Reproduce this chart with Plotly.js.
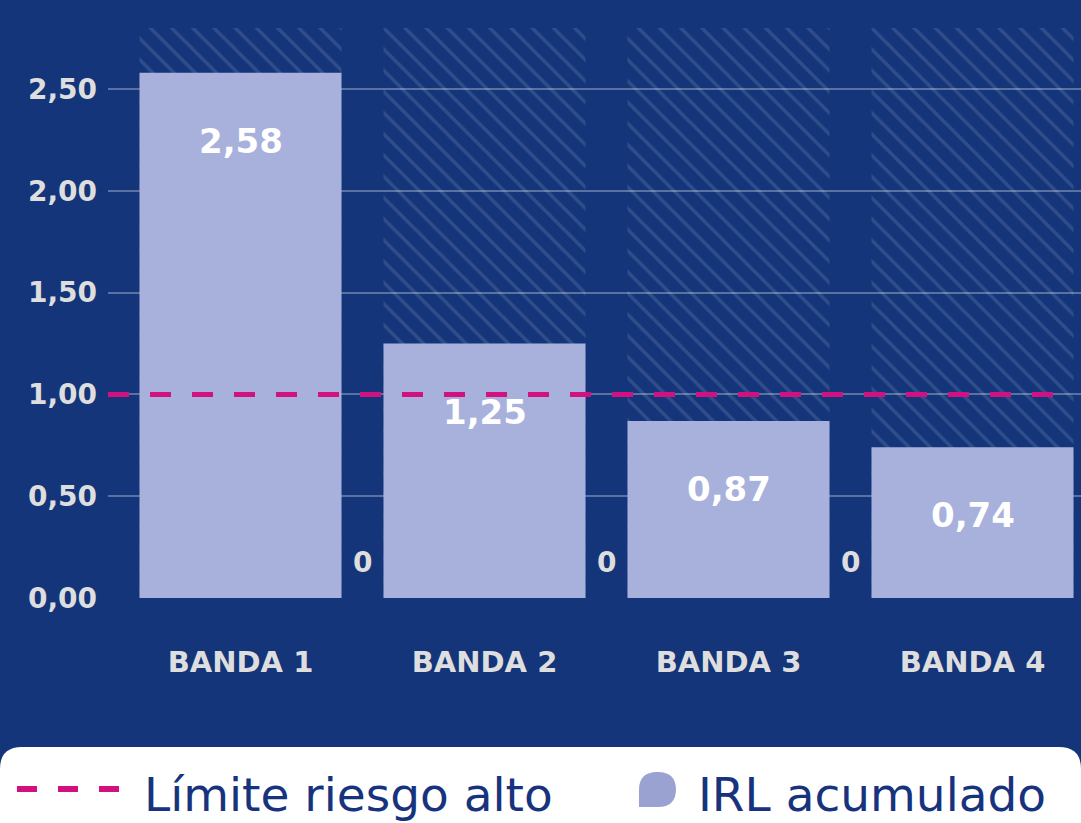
<!DOCTYPE html>
<html>
<head>
<meta charset="utf-8">
<script src="https://cdn.plot.ly/plotly-3.0.1.min.js"></script>
<style>html,body{margin:0;padding:0;background:#14357a;}#chart{width:1081px;height:823px;}</style>
</head>
<body>
<div id="chart"></div>
<script>
// ---- data ----
const categories = ['BANDA 1', 'BANDA 2', 'BANDA 3', 'BANDA 4'];
const irlValues = [2.58, 1.25, 0.87, 0.74];
const zeroValues = [0, 0, 0, 0];
const scaleMax = [2.8, 2.8, 2.8, 2.8];
const riskLimit = 1.0;
const yTicks = [0, 0.5, 1.0, 1.5, 2.0, 2.5];
const seriesNames = ['IRL acumulado', 'Límite riesgo alto'];

// ---- style ----
const BG = '#14357a';
const BAR = '#a8b0dc';
const MAGENTA = '#d0117f';
const GREY = '#dedede';
const NAVY = '#17337d';
const BOLD = 'DejaVu Sans';

// plot area geometry (pixels)
const ML = 108, MT = 28, MB = 225, FW = 1081, FH = 823;
const PW = FW - ML, PH = FH - MT - MB;
const bottomPx = MT + PH;
const fx = x => (x - ML) / PW;
const fy = y => (bottomPx - y) / PH;
const pt = (x, y) => fx(x) + ',' + fy(y);
const fmt = v => v.toFixed(2).replace('.', ',');

const xIdx = categories.map((c, i) => i);

const traces = [
  {
    type: 'bar', x: xIdx, y: scaleMax, width: 0.828,
    marker: {color: 'rgba(0,0,0,0)', line: {width: 0},
      pattern: {shape: '\\', fgcolor: 'rgba(255,255,255,0.24)', bgcolor: 'rgba(0,0,0,0)', size: 15, solidity: 0.22, fillmode: 'overlay'}},
    hoverinfo: 'skip', showlegend: false
  },
  {
    type: 'bar', x: xIdx, y: irlValues, width: 0.828, name: seriesNames[0],
    marker: {color: BAR, line: {width: 0}}, showlegend: false
  }
];

const annotations = [];
irlValues.forEach((v, i) => annotations.push({
  x: i, y: v, xref: 'x', yref: 'y', text: fmt(v), showarrow: false,
  yshift: -68, font: {family: BOLD, size: 34, color: '#ffffff', weight: 'bold'}
}));
zeroValues.forEach((v, i) => annotations.push({
  x: i + 0.5, y: v, xref: 'x', yref: 'y', text: String(v), showarrow: false,
  yshift: 36, font: {family: BOLD, size: 28, color: GREY, weight: 'bold'}
}));
// legend texts
annotations.push({xref: 'paper', yref: 'paper', x: fx(143), y: fy(823), xanchor: 'left', yanchor: 'bottom',
  text: seriesNames[1], showarrow: false, borderpad: 0, font: {family: 'DejaVu Sans', size: 47, color: NAVY}});
annotations.push({xref: 'paper', yref: 'paper', x: fx(697), y: fy(823), xanchor: 'left', yanchor: 'bottom',
  text: seriesNames[0], showarrow: false, borderpad: 0, font: {family: 'DejaVu Sans', size: 47, color: NAVY}});

const r = 22;
const boxPath = 'M' + pt(0, 850) + ' L' + pt(0, 747 + r) + ' Q' + pt(0, 747) + ' ' + pt(r, 747) +
  ' L' + pt(FW - r, 747) + ' Q' + pt(FW, 747) + ' ' + pt(FW, 747 + r) + ' L' + pt(FW, 850) + ' Z';
const bx0 = 639, bx1 = 676, by0 = 772, by1 = 807, br = 18;
const blobPath = 'M' + pt(bx0, by1) + ' L' + pt(bx0, by0 + br) + ' Q' + pt(bx0, by0) + ' ' + pt(bx0 + br, by0) +
  ' L' + pt(bx1 - br, by0) + ' Q' + pt(bx1, by0) + ' ' + pt(bx1, by0 + br) +
  ' L' + pt(bx1, by1 - br) + ' Q' + pt(bx1, by1) + ' ' + pt(bx1 - br, by1) + ' Z';

const shapes = [
  {type: 'line', xref: 'paper', yref: 'y', x0: 0, x1: fx(1064), y0: riskLimit, y1: riskLimit,
   line: {color: MAGENTA, width: 5, dash: '21px,21px'}, layer: 'above'},
  {type: 'path', xref: 'paper', yref: 'paper', path: boxPath, fillcolor: '#ffffff', line: {width: 0}, layer: 'above'},
  {type: 'line', xref: 'paper', yref: 'paper', x0: fx(17), x1: fx(120), y0: fy(789), y1: fy(789),
   line: {color: MAGENTA, width: 6, dash: '20px,21px'}, layer: 'above'},
  {type: 'path', xref: 'paper', yref: 'paper', path: blobPath, fillcolor: '#9aa2d2', line: {width: 0}, layer: 'above'}
];

const layout = {
  width: FW, height: FH,
  margin: {l: ML, r: 0, t: MT, b: MB, pad: 0},
  paper_bgcolor: BG, plot_bgcolor: BG,
  barmode: 'overlay',
  separators: ',.',
  showlegend: false,
  xaxis: {
    range: [(ML - 240.5) / 244, (FW - 240.5) / 244],
    tickmode: 'array', tickvals: xIdx, ticktext: categories,
    showgrid: false, zeroline: false, showline: false, ticks: '',
    ticklabelstandoff: 44,
    tickfont: {family: BOLD, size: 29, color: GREY, weight: 'bold'}
  },
  yaxis: {
    range: [0, 2.8], tickmode: 'array', tickvals: yTicks, tickformat: '.2f',
    showgrid: true, gridcolor: 'rgba(255,255,255,0.3)', gridwidth: 2,
    zeroline: false, showline: false, ticks: '', ticklabelstandoff: 10,
    tickfont: {family: BOLD, size: 28, color: GREY, weight: 'bold'}
  },
  shapes: shapes,
  annotations: annotations
};

Plotly.newPlot('chart', traces, layout, {displayModeBar: false, staticPlot: true});
</script>
</body>
</html>
